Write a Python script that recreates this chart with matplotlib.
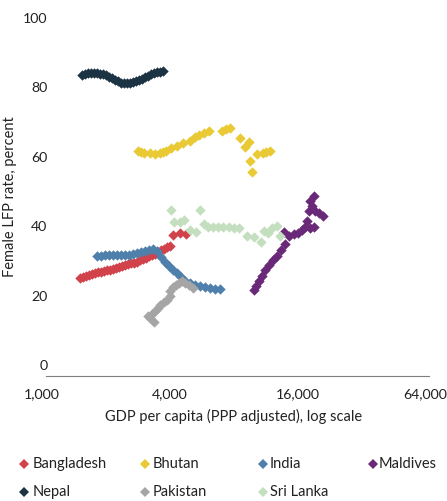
import numpy as np
import matplotlib
matplotlib.use("Agg")
import matplotlib.pyplot as plt
from matplotlib.lines import Line2D
from matplotlib.ticker import FixedLocator, NullLocator

# -----------------------------
# Data (GDP per capita, PPP; female LFP rate, percent)
# -----------------------------
bangladesh_gdp = [1509, 1559, 1610, 1663, 1718, 1775, 1834, 1895, 1957, 2022,
                  2089, 2158, 2229, 2303, 2378, 2457, 2539, 2622, 2709, 2799,
                  2892, 2987, 3086, 3188, 3294, 3402, 3514, 3630, 3750, 3874,
                  4000, 4132, 4455, 4757]
bangladesh_lfp = [25.1, 25.4, 25.6, 25.9, 26.2, 26.5, 26.7, 26.8, 27.1, 27.4,
                  27.5, 27.7, 28.0, 28.2, 28.4, 28.7, 29.0, 29.3, 29.5, 29.8,
                  30.3, 30.5, 30.8, 31.3, 31.7, 32.1, 32.6, 33.0, 33.4, 33.9,
                  34.3, 37.5, 38.0, 37.8]

bhutan_gdp = [2828, 2922, 3018, 3221, 3401, 3590, 3708, 3830, 4043, 4315,
              4605, 4967, 5244, 5475, 5780, 6102, 7025, 7336, 7743, 8628,
              9514, 9107, 9618, 9829, 10370, 11070, 11440, 11940]
bhutan_lfp = [61.7, 61.4, 61.1, 61.1, 60.8, 61.1, 61.4, 61.7, 62.5, 63.1,
              64.0, 64.6, 65.7, 66.3, 66.9, 67.4, 67.4, 68.0, 68.3, 65.4,
              64.3, 62.8, 58.8, 55.6, 60.8, 61.1, 61.4, 61.7]

india_gdp = [1814, 1895, 1978, 2066, 2158, 2253, 2353, 2457, 2566, 2680,
             2798, 2922, 3051, 3187, 3327, 3475, 3628, 3789, 3957, 4132,
             4315, 4506, 4705, 4967, 5244, 5536, 5844, 6169, 6513, 6875]
india_lfp = [31.4, 31.4, 31.6, 31.6, 31.6, 31.6, 31.7, 31.7, 31.7, 32.0,
             32.3, 32.6, 32.9, 33.1, 33.4, 32.9, 31.1, 29.7, 28.5, 27.4,
             26.5, 25.4, 24.2, 23.6, 23.1, 22.8, 22.5, 22.2, 21.9, 21.9]

maldives_gdp = [10040, 10260, 10600, 10950, 11310, 11810, 12340, 12880, 13450,
                14050, 13900, 14670, 15490, 16170, 16890, 17450, 17830, 18420,
                19240, 18220, 18820, 18420, 19240, 19450, 20300, 21200]
maldives_lfp = [21.6, 22.8, 24.2, 25.6, 27.4, 28.8, 30.3, 31.4, 33.1,
                34.9, 38.3, 37.2, 37.8, 38.0, 38.9, 39.8, 41.5, 39.5,
                39.8, 44.4, 45.8, 47.3, 48.7, 44.4, 43.8, 42.9]

nepal_gdp = [1542, 1593, 1646, 1700, 1756, 1814, 1874, 1936, 2000, 2066,
             2134, 2205, 2278, 2353, 2431, 2511, 2594, 2680, 2768, 2860,
             2954, 3051, 3152, 3256, 3364, 3475, 3590, 3708]
nepal_lfp = [83.6, 84.0, 84.1, 84.1, 84.1, 84.1, 84.0, 83.9, 83.6, 83.1,
             82.7, 82.1, 81.7, 81.4, 81.3, 81.3, 81.4, 81.6, 81.7, 82.0,
             82.3, 82.9, 83.4, 83.9, 84.1, 84.3, 84.4, 84.7]

pakistan_gdp = [3364, 3221, 3152, 3292, 3401, 3513, 3590, 3748, 3872, 4000,
                4000, 4132, 4268, 4410, 4555, 4705, 4914, 5131]
pakistan_lfp = [12.4, 13.5, 14.1, 14.7, 15.6, 16.4, 17.3, 18.2, 18.7, 19.9,
                21.3, 22.5, 23.1, 23.6, 24.2, 23.6, 23.1, 22.2]

srilanka_gdp = [4043, 4177, 4455, 4655, 4967, 5300, 5536, 5780, 6037, 6373,
                6727, 7101, 7578, 8000, 8537, 9310, 10040, 10830, 11190, 11690,
                12200, 12880, 13310]
srilanka_lfp = [44.7, 41.2, 41.2, 41.8, 38.9, 38.3, 44.7, 40.6, 39.8, 39.8,
                39.8, 39.8, 39.8, 39.5, 39.5, 37.2, 36.9, 35.4, 38.6, 38.0,
                39.5, 40.1, 37.2]

series = [
    ("Bangladesh", bangladesh_gdp, bangladesh_lfp, "#d2424b"),
    ("Bhutan", bhutan_gdp, bhutan_lfp, "#e9c934"),
    ("India", india_gdp, india_lfp, "#4f7fab"),
    ("Maldives", maldives_gdp, maldives_lfp, "#6a2878"),
    ("Nepal", nepal_gdp, nepal_lfp, "#1c3344"),
    ("Pakistan", pakistan_gdp, pakistan_lfp, "#a5a5a5"),
    ("Sri Lanka", srilanka_gdp, srilanka_lfp, "#c4dfbf"),
]

x_ticks = [1000, 4000, 16000, 64000]
x_tick_labels = ["1,000", "4,000", "16,000", "64,000"]
y_ticks = [0, 20, 40, 60, 80, 100]

# -----------------------------
# Plot
# -----------------------------
plt.rcParams["font.family"] = ["Lato", "DejaVu Sans"]

W, H = 447, 501
fig = plt.figure(figsize=(W / 100, H / 100), dpi=100)
ax = fig.add_axes([42 / W, 1 - 376 / H, 383 / W, 358 / H])

for name, gdp, lfp, color in series:
    ax.scatter(gdp, lfp, marker="D", s=28, color=color,
               linewidths=0, label=name, zorder=3)

ax.set_xscale("log")
ax.set_xlim(1000, 64000)
ax.set_ylim(-3.2, 100)

ax.xaxis.set_major_locator(FixedLocator(x_ticks))
ax.xaxis.set_minor_locator(NullLocator())
ax.set_xticklabels(x_tick_labels)
ax.set_yticks(y_ticks)
ax.tick_params(axis="both", length=0, labelsize=10.2, colors="#222222")
ax.tick_params(axis="x", pad=9)
ax.tick_params(axis="y", pad=-4)

for side in ["top", "right", "left"]:
    ax.spines[side].set_visible(False)
ax.spines["bottom"].set_color("#7f7f7f")
ax.spines["bottom"].set_linewidth(0.8)
ax.spines["bottom"].set_bounds(1000 * 2 ** (4 / 64), 64000 * 2 ** (4 / 64))

ax.set_xlabel("GDP per capita (PPP adjusted), log scale",
              fontsize=10.5, color="#222222", labelpad=6)
ax.set_ylabel("Female LFP rate, percent",
              fontsize=10.5, color="#222222")
ax.yaxis.set_label_coords((17 - 42) / 383, 0.5)
ax.set_clip_on(False)
ax.spines["bottom"].set_clip_on(False)

# -----------------------------
# Legend (two rows, four columns)
# -----------------------------
marker_x = [24, 145, 263, 373]
text_x = [33, 153, 270, 379]
row_y = [464, 492]

for i, (name, gdp, lfp, color) in enumerate(series):
    row, col = divmod(i, 4)
    fig.add_artist(Line2D([marker_x[col] / W], [1 - row_y[row] / H],
                          marker="D", markersize=5.2, color=color,
                          markeredgewidth=0, linestyle="none",
                          transform=fig.transFigure))
    fig.text(text_x[col] / W, 1 - row_y[row] / H, name,
             fontsize=10.5, color="#222222", ha="left", va="center")

plt.savefig("out.png", dpi=100)
